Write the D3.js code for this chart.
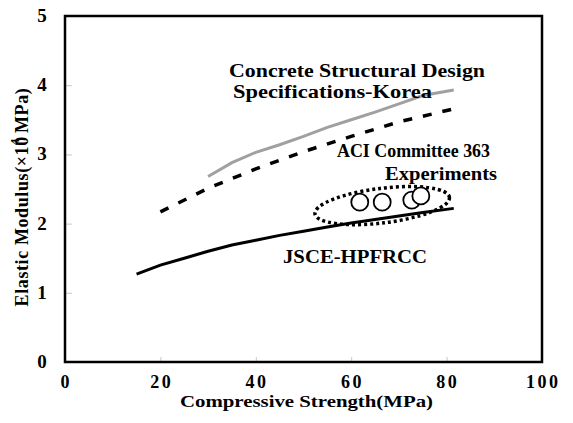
<!DOCTYPE html>
<html lang="en">
<head>
    <meta charset="UTF-8">
    <title>Elastic Modulus vs Compressive Strength</title>
    <script src="https://d3js.org/d3.v7.min.js"></script>
    <style>
        body { margin: 0; background: white; }
        svg { display: block; font-family: "Liberation Serif", "Times New Roman", serif; font-weight: bold; }
    </style>
</head>
<body>
    <div id="chart"></div>
    <script>
        // Axis ticks
        const xTicks = [0, 20, 40, 60, 80, 100];
        const yTicks = [0, 1, 2, 3, 4, 5];

        // Concrete Structural Design Specifications-Korea (gray solid)
        const koreaX = [30, 35, 40, 45, 50, 55, 60, 65, 70, 75, 81.5];
        const koreaY = [2.68, 2.88, 3.03, 3.14, 3.26, 3.39, 3.50, 3.61, 3.73, 3.85, 3.93];

        // ACI Committee 363 (black dashed)
        const aciX = [20, 30, 40, 50, 60, 70, 81];
        const aciY = [2.17, 2.51, 2.79, 3.04, 3.26, 3.47, 3.65];

        // JSCE-HPFRCC (black solid)
        const jsceX = [15, 20, 25, 30, 35, 40, 45, 50, 55, 60, 65, 70, 75, 81.5];
        const jsceY = [1.27, 1.40, 1.50, 1.60, 1.69, 1.76, 1.83, 1.89, 1.95, 2.01, 2.06, 2.11, 2.16, 2.22];

        // Experiments (open circles)
        const expX = [61.8, 66.5, 72.7, 74.6];
        const expY = [2.31, 2.31, 2.34, 2.40];

        const W = 573, H = 423;
        const margin = { top: 16, right: 31, bottom: 61, left: 65 };

        const svg = d3.select("#chart").append("svg")
            .attr("width", W)
            .attr("height", H);

        const x = d3.scaleLinear().domain([0, 100]).range([margin.left, W - margin.right]);
        const y = d3.scaleLinear().domain([0, 5]).range([H - margin.bottom, margin.top]);

        // small inner tick marks (gray)
        svg.append("g")
            .attr("transform", `translate(0,${y(0)})`)
            .call(d3.axisTop(x).tickValues(xTicks.slice(1, -1)).tickSize(5).tickFormat(""))
            .call(g => g.select(".domain").remove())
            .call(g => g.selectAll("line").attr("stroke", "#c8c8c8"));
        svg.append("g")
            .attr("transform", `translate(${x(0)},0)`)
            .call(d3.axisRight(y).tickValues(yTicks.slice(1, -1)).tickSize(7).tickFormat(""))
            .call(g => g.select(".domain").remove())
            .call(g => g.selectAll("line").attr("stroke", "#c8c8c8"));

        // tick labels
        svg.append("g").selectAll("text")
            .data(xTicks).join("text")
            .attr("x", d => x(d) + 1.25)
            .attr("y", y(0) + 26)
            .attr("text-anchor", "middle")
            .attr("font-size", 18)
            .attr("letter-spacing", 2.5)
            .text(d => d);
        svg.append("g").selectAll("text")
            .data(yTicks).join("text")
            .attr("x", 42)
            .attr("y", d => y(d) + 6)
            .attr("text-anchor", "middle")
            .attr("font-size", 19)
            .text(d => d);

        // plot frame
        svg.append("rect")
            .attr("x", x(0)).attr("y", y(5))
            .attr("width", x(100) - x(0)).attr("height", y(0) - y(5))
            .attr("fill", "none")
            .attr("stroke", "black")
            .attr("stroke-width", 2.5);

        const line = d3.line().x(d => x(d[0])).y(d => y(d[1]));

        svg.append("path")
            .datum(d3.zip(koreaX, koreaY))
            .attr("d", line)
            .attr("fill", "none")
            .attr("stroke", "#a0a0a0")
            .attr("stroke-width", 3);

        svg.append("path")
            .datum(d3.zip(aciX, aciY))
            .attr("d", line)
            .attr("fill", "none")
            .attr("stroke", "black")
            .attr("stroke-width", 3.5)
            .attr("stroke-dasharray", "9,11");

        svg.append("path")
            .datum(d3.zip(jsceX, jsceY))
            .attr("d", line)
            .attr("fill", "none")
            .attr("stroke", "black")
            .attr("stroke-width", 3);

        // dotted ellipse round the experiments
        const ex = x(66.5), ey = y(2.26);
        svg.append("ellipse")
            .attr("cx", ex).attr("cy", ey)
            .attr("rx", x(66.5 + 14.2) - ex)
            .attr("ry", y(2.26) - y(2.26 + 0.25))
            .attr("transform", `rotate(-7,${ex},${ey})`)
            .attr("fill", "none")
            .attr("stroke", "black")
            .attr("stroke-width", 3.5)
            .attr("stroke-dasharray", "3,3");

        svg.append("g").selectAll("circle")
            .data(d3.zip(expX, expY)).join("circle")
            .attr("cx", d => x(d[0]))
            .attr("cy", d => y(d[1]))
            .attr("r", 8.5)
            .attr("fill", "white")
            .attr("stroke", "black")
            .attr("stroke-width", 1.8);

        // annotations
        const notes = [
            { t: "Concrete Structural Design", x: 229, y: 77, w: 256 },
            { t: "Specifications-Korea", x: 233, y: 98, w: 199 },
            { t: "ACI Committee 363", x: 337, y: 157, w: 153 },
            { t: "Experiments", x: 385, y: 180, w: 112 },
            { t: "JSCE-HPFRCC", x: 283, y: 263, w: 144 }
        ];
        svg.append("g").selectAll("text")
            .data(notes).join("text")
            .attr("x", d => d.x)
            .attr("y", d => d.y)
            .attr("font-size", 18)
            .attr("textLength", d => d.w)
            .attr("lengthAdjust", "spacingAndGlyphs")
            .text(d => d.t);

        // axis titles
        svg.append("text")
            .attr("x", 180)
            .attr("y", 407)
            .attr("font-size", 17)
            .attr("textLength", 253)
            .attr("lengthAdjust", "spacingAndGlyphs")
            .text("Compressive Strength(MPa)");

        const yt = svg.append("text")
            .attr("transform", "translate(28,197) rotate(-90)")
            .attr("text-anchor", "middle")
            .attr("font-size", 18)
            .attr("letter-spacing", 0.6);
        yt.append("tspan").text("Elastic Modulus(×10");
        yt.append("tspan").attr("dx", -9).attr("dy", -9).attr("font-size", 13).text("4");
        yt.append("tspan").attr("dy", 9).text(" MPa)");
    </script>
</body>
</html>
